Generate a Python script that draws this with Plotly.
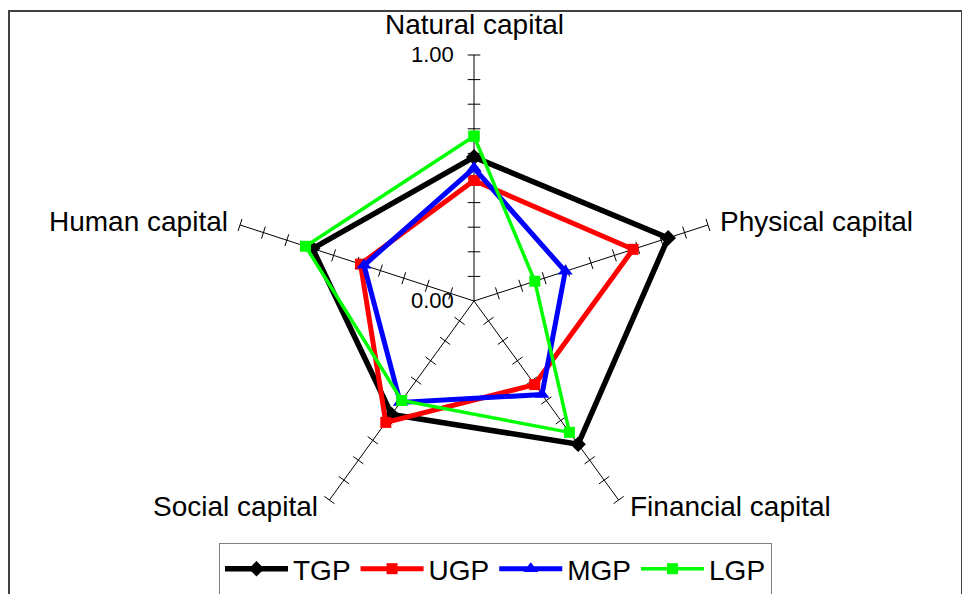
import math
import plotly.graph_objects as go

categories = ["Natural capital", "Physical capital", "Financial capital", "Social capital", "Human capital"]
TGP = [0.585, 0.83, 0.72, 0.57, 0.69]
UGP = [0.49, 0.68, 0.42, 0.61, 0.485]
MGP = [0.54, 0.39, 0.47, 0.51, 0.47]
LGP = [0.67, 0.26, 0.66, 0.50, 0.72]
tick_values = [0.1, 0.2, 0.3, 0.4, 0.5, 0.6, 0.7, 0.8, 0.9, 1.0]
radial_tickvals = [0, 1]
radial_ticktext = ["0.00", "1.00"]

FONT = "Liberation Sans, Arial, sans-serif"
fig = go.Figure()

# screen direction of each spoke (degrees, counter-clockwise from east)
screen_angles = [90 - 360 * i / len(categories) for i in range(len(categories))]

# tick marks on each spoke (perpendicular to spoke)
for cat, th in zip(categories, screen_angles):
    fig.add_trace(go.Scatterpolar(
        r=tick_values, theta=[cat] * len(tick_values), mode="markers",
        marker=dict(symbol="line-ns", size=9, angle=-th,
                    line=dict(color="black", width=1)),
        showlegend=False, hoverinfo="skip"))

series = [
    ("TGP", TGP, "black", "diamond", 12, 5.5),
    ("UGP", UGP, "#FF0000", "square", 11, 5),
    ("MGP", MGP, "#0000FF", "triangle-up", 13, 5),
    ("LGP", LGP, "#00FF00", "square", 11, 3.5),
]
for name, vals, col, sym, ms, lw in series:
    fig.add_trace(go.Scatterpolar(
        r=vals + vals[:1], theta=categories + categories[:1],
        mode="lines+markers", name=name,
        line=dict(color=col, width=lw),
        marker=dict(symbol=sym, size=ms, color=col)))

# page has an 8px body margin; figure sized to fit the window
W, H = 962, 586
cx, cy, R = 466, 293, 246

# category labels placed just beyond the spoke ends
label_style = [  # (xanchor, xshift, yshift)
    ("center", 0, 30),
    ("left", 10, 3),
    ("left", 9, -6),
    ("right", -9, -6),
    ("right", -10, 3),
]
annotations = []
for cat, th, (xa, xs, ys) in zip(categories, screen_angles, label_style):
    ex = cx + R * math.cos(math.radians(th))
    ey = cy - R * math.sin(math.radians(th))
    annotations.append(dict(
        text=cat, xref="paper", yref="paper", x=ex / W, y=1 - ey / H,
        xanchor=xa, yanchor="middle", xshift=xs, yshift=ys, showarrow=False,
        font=dict(size=28, family=FONT, color="black")))

fig.update_layout(
    width=W, height=H,
    margin=dict(l=0, r=0, t=0, b=0, autoexpand=False),
    paper_bgcolor="white",
    font=dict(family=FONT, color="black"),
    polar=dict(
        domain=dict(x=[(cx - R) / W, (cx + R) / W],
                    y=[(H - cy - R) / H, (H - cy + R) / H]),
        bgcolor="white",
        angularaxis=dict(rotation=90, direction="clockwise",
                         showline=False, showgrid=True, gridcolor="black",
                         gridwidth=1, ticks="", showticklabels=False),
        radialaxis=dict(range=[0, 1], angle=90, tickangle=90,
                        showline=False, showgrid=False,
                        tickvals=radial_tickvals, ticktext=radial_ticktext,
                        ticks="outside", ticklen=12,
                        tickcolor="rgba(0,0,0,0)", side="counterclockwise",
                        tickfont=dict(size=22, family=FONT, color="black")),
    ),
    legend=dict(orientation="h", x=211 / W, xanchor="left",
                y=1 - 535 / H, yanchor="top",
                bordercolor="#808080", borderwidth=1,
                font=dict(size=28, family=FONT, color="black"),
                itemwidth=63),
    annotations=annotations,
    shapes=[dict(type="rect", xref="paper", yref="paper",
                 x0=1 / W, x1=954 / W, y0=-0.2, y1=1 - 3 / H,
                 line=dict(color="#404040", width=2))],
)

fig.write_html("out.html")
